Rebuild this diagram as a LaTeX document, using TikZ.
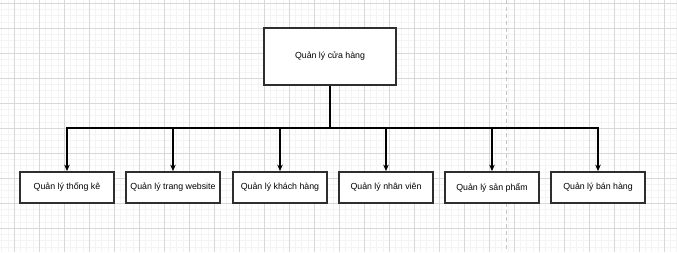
\documentclass[tikz,border=0pt]{standalone}
\usepackage{fontspec}
\setmainfont{Liberation Sans}
\usetikzlibrary{arrows.meta}
\definecolor{minorgrid}{HTML}{F4F4F4}
\definecolor{majorgrid}{HTML}{D8D8D8}
\definecolor{pagebreak}{HTML}{C4C4C4}
\definecolor{boxline}{HTML}{2E2E2E}
\tikzset{
  rootbox/.style={draw=boxline, line width=1.7pt, fill=white,
    minimum width=132pt, minimum height=57pt, inner sep=0pt,
    font=\fontsize{8.8pt}{10pt}\selectfont},
  leafbox/.style={draw=boxline, line width=1.7pt, fill=white,
    minimum width=94pt, minimum height=31pt, inner sep=0pt,
    font=\fontsize{8.8pt}{10pt}\selectfont},
  conn/.style={draw=black, line width=1.3pt,
    -{Stealth[length=6.5pt,width=5.5pt,inset=2pt]}},
  trunk/.style={draw=black, line width=2.4pt},
}
\begin{document}
\begin{tikzpicture}[x=1pt,y=-1pt]
  \useasboundingbox (0,0) rectangle (677,252);
  \fill[white] (0,0) rectangle (677,252);
  % background grid: fine and coarse lines
  \begin{scope}
    \clip (0,0) rectangle (677,252);
    \foreach \i in {0,...,109} {
      \draw[minorgrid, line width=0.8pt] (1.8+6.25*\i,0) -- (1.8+6.25*\i,252);
    }
    \foreach \i in {0,...,41} {
      \draw[minorgrid, line width=0.8pt] (0,3.3+6.25*\i) -- (677,3.3+6.25*\i);
    }
    \foreach \i in {0,...,27} {
      \draw[majorgrid, line width=0.9pt] (14.3+25*\i,0) -- (14.3+25*\i,252);
    }
    \foreach \i in {0,...,10} {
      \draw[majorgrid, line width=0.9pt] (0,3.3+25*\i) -- (677,3.3+25*\i);
    }
    \draw[pagebreak, line width=1.1pt, dash pattern=on 3.5pt off 3.5pt] (506.7,0) -- (506.7,252);
  \end{scope}

  % boxes
  \node[rootbox] (root) at (330,56.5) {Quản lý cửa hàng};
  \node[leafbox] (tk) at (67,187.5) {Quản lý thống kê};
  \node[leafbox] (web) at (173,187.5) {Quản lý trang website};
  \node[leafbox] (kh) at (280,187.5) {Quản lý khách hàng};
  \node[leafbox] (nv) at (386,187.5) {Quản lý nhân viên};
  \node[leafbox] (sp) at (492,187.5) {Quản lý sản phẩm};
  \node[leafbox] (bh) at (598,187.5) {Quản lý bán hàng};

  % connectors
  \coordinate (bus) at (330,128);
  \draw[trunk] (root.south) -- (root.south |- bus);
  \foreach \n in {tk,web,kh,nv,sp,bh} {
    \draw[conn] (root.south |- bus) -| (\n.north);
  }
\end{tikzpicture}
\end{document}
